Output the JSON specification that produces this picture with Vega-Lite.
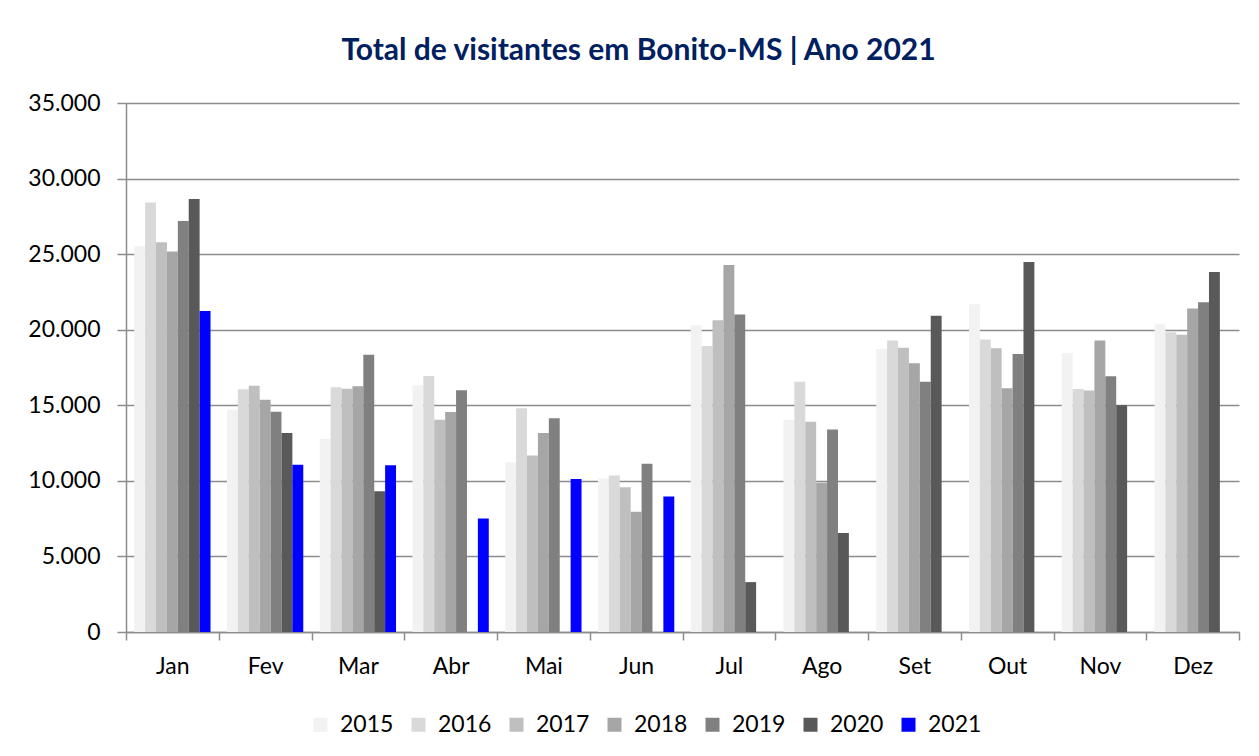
{
  "$schema": "https://vega.github.io/schema/vega-lite/v6.json",
  "autosize": {"type": "none"},
  "width": 1113,
  "height": 529,
  "padding": {"left": 126, "top": 103, "right": 20, "bottom": 124},
  "background": "white",
  "title": {
    "text": "Total de  visitantes em Bonito-MS | Ano 2021",
    "font": "Lato",
    "fontSize": 30,
    "fontWeight": "bold",
    "color": "#002060",
    "anchor": "middle",
    "dx": -44,
    "offset": 26
  },
  "data": {
    "values": [
      {"mes": "Jan", "ano": "2015", "visitantes": 25530},
      {"mes": "Jan", "ano": "2016", "visitantes": 28410},
      {"mes": "Jan", "ano": "2017", "visitantes": 25790},
      {"mes": "Jan", "ano": "2018", "visitantes": 25180},
      {"mes": "Jan", "ano": "2019", "visitantes": 27200},
      {"mes": "Jan", "ano": "2020", "visitantes": 28650},
      {"mes": "Jan", "ano": "2021", "visitantes": 21230},
      {"mes": "Fev", "ano": "2015", "visitantes": 14700},
      {"mes": "Fev", "ano": "2016", "visitantes": 16060},
      {"mes": "Fev", "ano": "2017", "visitantes": 16300},
      {"mes": "Fev", "ano": "2018", "visitantes": 15360},
      {"mes": "Fev", "ano": "2019", "visitantes": 14570},
      {"mes": "Fev", "ano": "2020", "visitantes": 13160},
      {"mes": "Fev", "ano": "2021", "visitantes": 11070},
      {"mes": "Mar", "ano": "2015", "visitantes": 12790},
      {"mes": "Mar", "ano": "2016", "visitantes": 16200},
      {"mes": "Mar", "ano": "2017", "visitantes": 16100},
      {"mes": "Mar", "ano": "2018", "visitantes": 16260},
      {"mes": "Mar", "ano": "2019", "visitantes": 18350},
      {"mes": "Mar", "ano": "2020", "visitantes": 9320},
      {"mes": "Mar", "ano": "2021", "visitantes": 11030},
      {"mes": "Abr", "ano": "2015", "visitantes": 16330},
      {"mes": "Abr", "ano": "2016", "visitantes": 16940},
      {"mes": "Abr", "ano": "2017", "visitantes": 14040},
      {"mes": "Abr", "ano": "2018", "visitantes": 14550},
      {"mes": "Abr", "ano": "2019", "visitantes": 16000},
      {"mes": "Abr", "ano": "2021", "visitantes": 7510},
      {"mes": "Mai", "ano": "2015", "visitantes": 11230},
      {"mes": "Mai", "ano": "2016", "visitantes": 14810},
      {"mes": "Mai", "ano": "2017", "visitantes": 11670},
      {"mes": "Mai", "ano": "2018", "visitantes": 13160},
      {"mes": "Mai", "ano": "2019", "visitantes": 14150},
      {"mes": "Mai", "ano": "2021", "visitantes": 10130},
      {"mes": "Jun", "ano": "2015", "visitantes": 10150},
      {"mes": "Jun", "ano": "2016", "visitantes": 10350},
      {"mes": "Jun", "ano": "2017", "visitantes": 9580},
      {"mes": "Jun", "ano": "2018", "visitantes": 7950},
      {"mes": "Jun", "ano": "2019", "visitantes": 11140},
      {"mes": "Jun", "ano": "2021", "visitantes": 8970},
      {"mes": "Jul", "ano": "2015", "visitantes": 20300},
      {"mes": "Jul", "ano": "2016", "visitantes": 18920},
      {"mes": "Jul", "ano": "2017", "visitantes": 20630},
      {"mes": "Jul", "ano": "2018", "visitantes": 24280},
      {"mes": "Jul", "ano": "2019", "visitantes": 21000},
      {"mes": "Jul", "ano": "2020", "visitantes": 3300},
      {"mes": "Ago", "ano": "2015", "visitantes": 14040},
      {"mes": "Ago", "ano": "2016", "visitantes": 16550},
      {"mes": "Ago", "ano": "2017", "visitantes": 13910},
      {"mes": "Ago", "ano": "2018", "visitantes": 9870},
      {"mes": "Ago", "ano": "2019", "visitantes": 13400},
      {"mes": "Ago", "ano": "2020", "visitantes": 6550},
      {"mes": "Set", "ano": "2015", "visitantes": 18720},
      {"mes": "Set", "ano": "2016", "visitantes": 19290},
      {"mes": "Set", "ano": "2017", "visitantes": 18810},
      {"mes": "Set", "ano": "2018", "visitantes": 17780},
      {"mes": "Set", "ano": "2019", "visitantes": 16550},
      {"mes": "Set", "ano": "2020", "visitantes": 20920},
      {"mes": "Out", "ano": "2015", "visitantes": 21690},
      {"mes": "Out", "ano": "2016", "visitantes": 19360},
      {"mes": "Out", "ano": "2017", "visitantes": 18770},
      {"mes": "Out", "ano": "2018", "visitantes": 16130},
      {"mes": "Out", "ano": "2019", "visitantes": 18390},
      {"mes": "Out", "ano": "2020", "visitantes": 24480},
      {"mes": "Nov", "ano": "2015", "visitantes": 18460},
      {"mes": "Nov", "ano": "2016", "visitantes": 16080},
      {"mes": "Nov", "ano": "2017", "visitantes": 15970},
      {"mes": "Nov", "ano": "2018", "visitantes": 19290},
      {"mes": "Nov", "ano": "2019", "visitantes": 16920},
      {"mes": "Nov", "ano": "2020", "visitantes": 15010},
      {"mes": "Dez", "ano": "2015", "visitantes": 20390},
      {"mes": "Dez", "ano": "2016", "visitantes": 19840},
      {"mes": "Dez", "ano": "2017", "visitantes": 19670},
      {"mes": "Dez", "ano": "2018", "visitantes": 21400},
      {"mes": "Dez", "ano": "2019", "visitantes": 21820},
      {"mes": "Dez", "ano": "2020", "visitantes": 23820}
    ]
  },
  "mark": {"type": "bar"},
  "encoding": {
    "x": {
      "field": "mes",
      "type": "nominal",
      "sort": ["Jan", "Fev", "Mar", "Abr", "Mai", "Jun", "Jul", "Ago", "Set", "Out", "Nov", "Dez"],
      "scale": {"paddingInner": 0, "paddingOuter": 0},
      "axis": {
        "title": null,
        "labelAngle": 0,
        "labelFont": "Lato",
        "labelFontSize": 23,
        "labelColor": "#000000",
        "labelPadding": 15,
        "tickBand": "extent",
        "tickSize": 8,
        "tickColor": "#8c8c8c",
        "tickWidth": 1.5,
        "domainColor": "#8c8c8c",
        "domainWidth": 1.5,
        "grid": false
      }
    },
    "xOffset": {
      "field": "ano",
      "type": "nominal",
      "scale": {"domain": ["2015", "2016", "2017", "2018", "2019", "2020", "2021"], "paddingInner": 0, "paddingOuter": 0.755}
    },
    "y": {
      "field": "visitantes",
      "type": "quantitative",
      "scale": {"domain": [0, 35000], "nice": false},
      "axis": {
        "title": null,
        "values": [0, 5000, 10000, 15000, 20000, 25000, 30000, 35000],
        "labelExpr": "replace(format(datum.value, ','), ',', '.')",
        "labelFont": "Lato",
        "labelFontSize": 23,
        "labelColor": "#000000",
        "labelPadding": 17,
        "tickSize": 9,
        "tickColor": "#8c8c8c",
        "tickWidth": 1.5,
        "domainColor": "#8c8c8c",
        "domainWidth": 1.5,
        "grid": true,
        "gridColor": "#8c8c8c",
        "gridWidth": 1.5
      }
    },
    "color": {
      "field": "ano",
      "type": "nominal",
      "scale": {
        "domain": ["2015", "2016", "2017", "2018", "2019", "2020", "2021"],
        "range": ["#f2f2f2", "#d9d9d9", "#bfbfbf", "#a6a6a6", "#808080", "#595959", "#0000ff"]
      },
      "legend": {
        "title": null,
        "orient": "none",
        "direction": "horizontal",
        "legendX": 183,
        "legendY": 610,
        "symbolType": "square",
        "symbolSize": 196,
        "symbolStrokeWidth": 0,
        "symbolOpacity": 1,
        "labelFont": "Lato",
        "labelFontSize": 23,
        "labelColor": "#000000",
        "labelOffset": 8,
        "columnPadding": 13
      }
    }
  },
  "config": {
    "view": {"stroke": null}
  }
}
